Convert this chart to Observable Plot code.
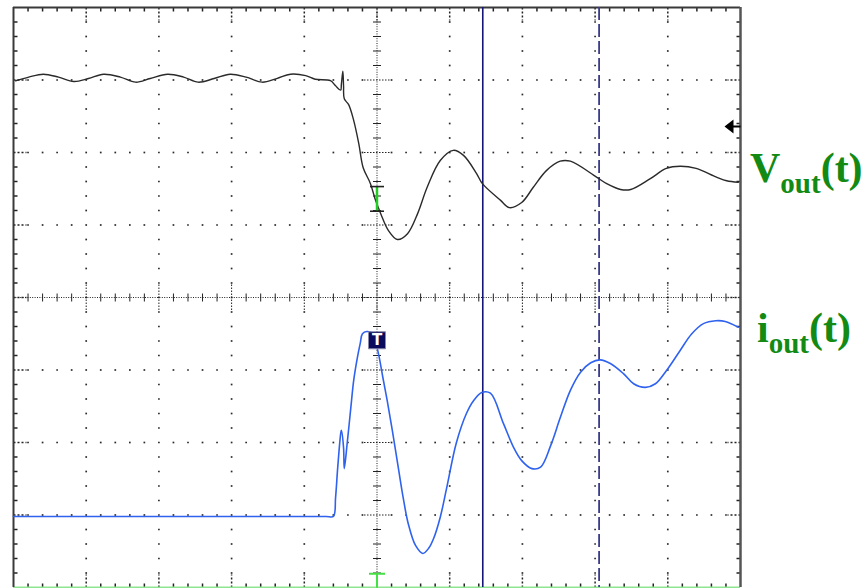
<!DOCTYPE html>
<html>
<head>
<meta charset="utf-8">
<script src="https://cdn.jsdelivr.net/npm/d3@7"></script>
<script src="https://cdn.jsdelivr.net/npm/@observablehq/plot@0.6"></script>
<style>
  html, body { margin: 0; padding: 0; background: #fff; }
  #chart svg { display: block; }
</style>
</head>
<body>
<div id="chart"></div>
<script>
// Oscilloscope screen: x in divisions (0..10), y in divisions (-4..4)
const voutX = [0.03,0.21,0.41,0.62,0.83,1.03,1.24,1.47,1.68,1.88,2.12,2.34,2.54,2.76,2.98,3.20,3.42,3.62,3.81,4.02,4.15,4.36,4.43,4.50,4.51,4.53,4.54,4.55,4.61,4.68,4.75,4.81,4.91,4.98,5.05,5.16,5.28,5.42,5.56,5.69,5.87,6.05,6.19,6.37,6.45,6.70,6.82,6.99,7.15,7.33,7.52,7.66,8.02,8.16,8.35,8.49,8.76,8.98,9.17,9.39,9.67,9.81,9.97];
const voutY = [2.99,3.04,3.08,3.04,2.98,3.02,3.08,3.04,2.97,3.02,3.08,3.04,2.97,3.02,3.08,3.04,2.97,3.02,3.08,3.06,3.01,2.99,2.92,2.86,2.94,3.12,2.92,2.74,2.66,2.44,2.12,1.79,1.57,1.34,1.16,0.92,0.80,0.88,1.16,1.52,1.89,2.03,1.96,1.71,1.57,1.34,1.24,1.31,1.52,1.75,1.88,1.88,1.66,1.57,1.49,1.49,1.64,1.78,1.81,1.78,1.66,1.61,1.59];

const ioutX = [0.00,1.00,2.00,3.00,4.00,4.30,4.40,4.43,4.46,4.50,4.51,4.54,4.55,4.59,4.64,4.68,4.73,4.77,4.80,4.86,4.94,5.01,5.08,5.14,5.21,5.30,5.36,5.43,5.53,5.63,5.71,5.78,5.87,5.96,6.09,6.23,6.33,6.44,6.56,6.74,6.88,6.99,7.13,7.25,7.39,7.52,7.66,7.80,7.94,8.07,8.21,8.39,8.53,8.69,8.83,8.98,9.17,9.33,9.49,9.66,9.79,9.97];
const ioutY = [-3.02,-3.02,-3.02,-3.02,-3.02,-3.02,-3.02,-2.76,-2.34,-1.88,-1.83,-2.07,-2.36,-2.01,-1.52,-1.14,-0.83,-0.63,-0.50,-0.47,-0.50,-0.73,-1.10,-1.42,-1.83,-2.39,-2.76,-3.12,-3.42,-3.53,-3.46,-3.32,-3.03,-2.62,-2.01,-1.60,-1.42,-1.31,-1.32,-1.74,-2.07,-2.25,-2.36,-2.34,-2.04,-1.66,-1.28,-1.03,-0.90,-0.86,-0.91,-1.05,-1.19,-1.24,-1.19,-1.01,-0.73,-0.50,-0.36,-0.32,-0.33,-0.41];

const cursorSolid = [6.455];
const cursorDashed = [8.055];
const triggerX = 5;
const iTriggerY = -0.59;     // trigger box on the current trace
const vMarkerY = [1.53, 1.19]; // trigger level marks on the voltage trace
const bottomTriggerY = -3.81;
const refArrowY = 2.36;
const labelV = {main: "V", sub: "out", tail: "(t)"};
const labelI = {main: "i", sub: "out", tail: "(t)"};

// ---- grid structure ----
const xMajor = d3.range(0, 11);
const yMajor = d3.range(-4, 5);
const xMinor = d3.range(0, 50.5).map(i => +(i * 0.2).toFixed(2));
const yMinor = d3.range(0, 40.5).map(i => +(-4 + i * 0.2).toFixed(2));
const isMajor = v => Math.abs(v - Math.round(v)) < 1e-6;

const gridDots = [];
for (const x of xMajor) if (x > 0 && x < 10 && x !== 5)
  for (const y of yMinor) if (y > -4 && y < 4) gridDots.push({x, y});
for (const y of yMajor) if (y > -4 && y < 4 && y !== 0)
  for (const x of xMinor) if (x > 0 && x < 10 && !isMajor(x)) gridDots.push({x, y});

// custom symbols (pixel-sized)
const seg = (x1, y1, x2, y2) => ({draw(ctx) { ctx.moveTo(x1, y1); ctx.lineTo(x2, y2); }});
const sq = s => ({draw(ctx) { ctx.rect(-s/2, -s/2, s, s); }});
const arrowLeft = {draw(ctx) {
  ctx.moveTo(-16, 0); ctx.lineTo(-7, -7); ctx.lineTo(-7, 7); ctx.closePath();
  ctx.moveTo(-7, -1); ctx.lineTo(0, -1); ctx.lineTo(0, 1); ctx.lineTo(-7, 1); ctx.closePath();
}};
const tShape = {draw(ctx) {
  ctx.moveTo(-8, 0); ctx.lineTo(8, 0); ctx.moveTo(0, 0); ctx.lineTo(0, 14);
}};

const minorY = yMinor.filter(y => !isMajor(y));
const minorX = xMinor.filter(x => !isMajor(x));
const innerMajorY = yMajor.filter(y => y > -4 && y < 4);
const innerMajorX = xMajor.filter(x => x > 0 && x < 10);

const ink = "#222";

const plot = Plot.plot({
  width: 866,
  height: 588,
  marginLeft: 13,
  marginRight: 126,
  marginTop: 7,
  marginBottom: 1,
  x: {domain: [0, 10], axis: null},
  y: {domain: [-4, 4], axis: null},
  style: {background: "#fff", overflow: "visible"},
  marks: [
    // dotted grid
    Plot.dot(gridDots, {x: "x", y: "y", symbol: sq(1.7), fill: "#2a2a2a", stroke: "none"}),
    // center crosshair: fine dotted lines
    Plot.ruleX([5], {stroke: ink, strokeWidth: 1, strokeDasharray: "1,1.4"}),
    Plot.ruleY([0], {stroke: ink, strokeWidth: 1, strokeDasharray: "1,1.4"}),
    // center minor ticks
    Plot.dot(minorY, {x: () => 5, y: d => d, symbol: seg(-4, 0, 4, 0), fill: "none", stroke: ink, strokeWidth: 1}),
    Plot.dot(minorX, {x: d => d, y: () => 0, symbol: seg(0, -4, 0, 4), fill: "none", stroke: ink, strokeWidth: 1}),
    // center major ticks (longer, dotted)
    Plot.dot(innerMajorY, {x: () => 5, y: d => d, symbol: seg(-13, 0, 13, 0), fill: "none", stroke: ink, strokeWidth: 1, strokeDasharray: "1.5,1.5"}),
    Plot.dot(innerMajorX, {x: d => d, y: () => 0, symbol: seg(0, -13, 0, 13), fill: "none", stroke: ink, strokeWidth: 1, strokeDasharray: "1.5,1.5"}),
    // border ticks
    Plot.dot(minorY, {x: () => 0, y: d => d, symbol: seg(0, 0, 4, 0), fill: "none", stroke: ink, strokeWidth: 1.5}),
    Plot.dot(minorY, {x: () => 10, y: d => d, symbol: seg(0, 0, -4, 0), fill: "none", stroke: ink, strokeWidth: 1.5}),
    Plot.dot(minorX, {x: d => d, y: () => 4, symbol: seg(0, 0, 0, 4), fill: "none", stroke: ink, strokeWidth: 1.5}),
    Plot.dot(minorX, {x: d => d, y: () => -4, symbol: seg(0, 0, 0, -4), fill: "none", stroke: ink, strokeWidth: 1.5}),
    Plot.dot(innerMajorY, {x: () => 0, y: d => d, symbol: seg(0, 0, 13, 0), fill: "none", stroke: ink, strokeWidth: 1.5, strokeDasharray: "2,2"}),
    Plot.dot(innerMajorY, {x: () => 10, y: d => d, symbol: seg(0, 0, -13, 0), fill: "none", stroke: ink, strokeWidth: 1.5, strokeDasharray: "2,2"}),
    Plot.dot(innerMajorX, {x: d => d, y: () => 4, symbol: seg(0, 0, 0, 13), fill: "none", stroke: ink, strokeWidth: 1.5, strokeDasharray: "2,2"}),
    Plot.dot(innerMajorX, {x: d => d, y: () => -4, symbol: seg(0, 0, 0, -13), fill: "none", stroke: ink, strokeWidth: 1.5, strokeDasharray: "2,2"}),
    // frame
    Plot.ruleY([-4], {stroke: "#8fe58f", strokeWidth: 2}),
    Plot.ruleY([4], {stroke: "#3a3a3a", strokeWidth: 2}),
    Plot.ruleX([0], {stroke: "#3a3a3a", strokeWidth: 2}),
    Plot.ruleX([10], {stroke: "#555", strokeWidth: 2.5}),
    // cursors
    Plot.ruleX(cursorSolid, {stroke: "#14147a", strokeWidth: 1.6}),
    Plot.ruleX(cursorDashed, {stroke: "#3c3c8c", strokeWidth: 1.8, strokeDasharray: "13,4"}),
    // traces
    Plot.line(voutX.map((x, i) => ({x, y: voutY[i]})), {x: "x", y: "y", stroke: "#2a2a2a", strokeWidth: 1.4, curve: "catmull-rom"}),
    Plot.line(ioutX.map((x, i) => ({x, y: ioutY[i]})), {x: "x", y: "y", stroke: "#2f62ee", strokeWidth: 1.6, curve: "catmull-rom"}),
    // voltage trigger marks
    Plot.ruleX([triggerX], {y1: vMarkerY[1], y2: vMarkerY[0], stroke: "#22cc22", strokeWidth: 2.5}),
    Plot.dot(vMarkerY, {x: () => triggerX, y: d => d, symbol: seg(-7, 0, 7, 0), fill: "none", stroke: "#222", strokeWidth: 1.6}),
    // trigger box on current
    Plot.dot([iTriggerY], {x: () => triggerX, y: d => d, symbol: sq(17), fill: "#0b0b5e", stroke: "#8888aa", strokeWidth: 1}),
    Plot.text(["T"], {x: () => triggerX, y: () => iTriggerY, text: d => d, fill: "#fff", fontSize: 15, fontWeight: "bold", fontFamily: "DejaVu Sans", dy: 0}),
    // bottom trigger mark
    Plot.dot([bottomTriggerY], {x: () => triggerX, y: d => d, symbol: tShape, fill: "none", stroke: "#44e044", strokeWidth: 2}),
    // reference arrow
    Plot.dot([refArrowY], {x: () => 10, y: d => d, symbol: arrowLeft, fill: "#000", stroke: "none"})
  ]
});

document.getElementById("chart").appendChild(plot);

// labels with subscripts, positioned from the scales
const svg = d3.select(plot);
const xs = plot.scale("x"), ys = plot.scale("y");
function addLabel(lbl, dxPx, yDiv, subDy) {
  const t = svg.append("text")
    .attr("x", xs.apply(10) + dxPx)
    .attr("y", ys.apply(yDiv))
    .attr("text-anchor", "start")
    .attr("font-family", "'Liberation Serif', 'Times New Roman', serif")
    .attr("font-weight", "bold")
    .attr("font-size", 42)
    .attr("fill", "#138a13");
  t.append("tspan").text(lbl.main);
  t.append("tspan").attr("font-size", 29).attr("dy", subDy).text(lbl.sub);
  t.append("tspan").attr("dy", -subDy).text(lbl.tail);
}
addLabel(labelV, 10, (297 - 182) / 72.5, 11);
addLabel(labelI, 17, (297 - 342) / 72.5, 11);
</script>
</body>
</html>
